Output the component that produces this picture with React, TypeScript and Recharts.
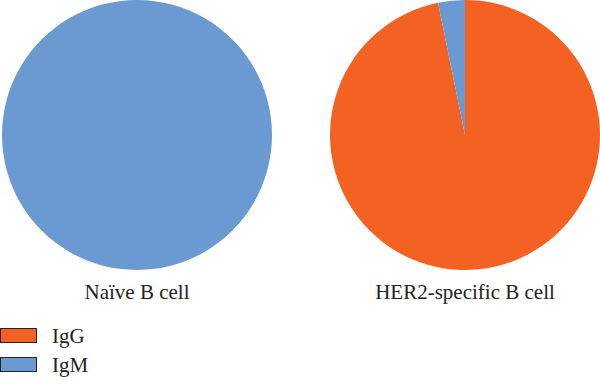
import { PieChart, Pie, Cell } from "recharts"

const isotypes = ["IgG", "IgM"]
const colors = ["#F36223", "#6A9AD1"]
const groups = ["Naïve B cell", "HER2-specific B cell"]
// percentage of each isotype per group
const naiveValues = [0, 100]
const her2Values = [96.8, 3.2]

const toData = (values: number[]) => isotypes.map((name, i) => ({ name, value: values[i] }))

const centers = [137, 465]

export default function App() {
  const series = [naiveValues, her2Values]
  return (
    <div style={{ position: "absolute", left: 0, top: 0, background: "#fff" }}>
      <PieChart width={600} height={380} margin={{ top: 0, right: 0, bottom: 0, left: 0 }}>
        {series.map((vals, gi) => (
          <Pie
            key={groups[gi]}
            data={toData(vals)}
            dataKey="value"
            nameKey="name"
            cx={centers[gi]}
            cy={135}
            outerRadius={135}
            startAngle={90}
            endAngle={-270}
            stroke="none"
            isAnimationActive={false}
          >
            {isotypes.map((n, i) => (
              <Cell key={n} fill={colors[i]} />
            ))}
          </Pie>
        ))}
        {groups.map((g, gi) => (
          <text key={g} x={centers[gi]} y={299} textAnchor="middle" fontFamily="Times New Roman" fontSize={21} fill="#222">
            {g}
          </text>
        ))}
        {isotypes.map((n, i) => (
          <g key={n}>
            <rect x={0.5} y={328.5 + i * 29} width={36} height={14} fill={colors[i]} stroke="#222" strokeWidth={1} />
            <text x={52} y={343 + i * 29} fontFamily="Times" fontSize={21} fill="#222">
              {n}
            </text>
          </g>
        ))}
      </PieChart>
    </div>
  )
}
